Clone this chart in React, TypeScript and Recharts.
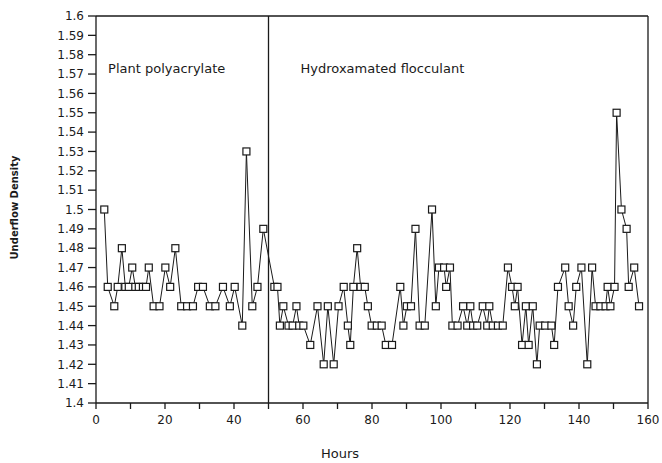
import { LineChart, Line, XAxis, YAxis, ReferenceLine, ReferenceDot, Label } from "recharts";

const hours = [
  2.4, 3.4, 5.3, 6.3, 7.5, 8.5, 9.5, 10.5, 11.4, 12.4, 13.6, 14.5, 15.3, 16.7, 18.4, 20.1, 21.5, 23.0,
  24.7, 26.4, 28.1, 29.6, 31.0, 33.0, 34.6, 36.8, 38.8, 40.2, 42.4, 43.6, 45.3, 46.8, 48.5, 51.7, 52.6,
  53.3, 54.3, 55.8, 57.0, 58.1, 58.9, 60.1, 62.1, 64.2, 66.0, 67.2, 68.9, 70.3, 71.8, 73.0, 73.7, 74.6,
  75.7, 76.7, 77.9, 78.8, 79.9, 81.4, 82.8, 84.0, 85.8, 88.2, 89.1, 90.1, 91.3, 92.6, 93.8, 95.3, 97.4,
  98.5, 99.4, 100.9, 101.5, 102.6, 103.3, 104.8, 106.4, 107.6, 108.5, 109.3, 110.5, 112.1, 113.4, 114.0,
  115.0, 116.5, 117.9, 119.4, 120.6, 121.4, 122.2, 123.5, 124.6, 125.4, 126.6, 127.8, 128.6, 130.2, 132.0,
  132.8, 133.9, 136.0, 137.0, 138.3, 139.2, 140.7, 142.4, 143.8, 144.8, 146.2, 147.7, 148.3, 149.1, 150.3,
  150.9, 152.3, 153.8, 154.4, 156.0, 157.4,
];

const density = [
  1.5, 1.46, 1.45, 1.46, 1.48, 1.46, 1.46, 1.47, 1.46, 1.46, 1.46, 1.46, 1.47, 1.45, 1.45, 1.47, 1.46, 1.48,
  1.45, 1.45, 1.45, 1.46, 1.46, 1.45, 1.45, 1.46, 1.45, 1.46, 1.44, 1.53, 1.45, 1.46, 1.49, 1.46, 1.46,
  1.44, 1.45, 1.44, 1.44, 1.45, 1.44, 1.44, 1.43, 1.45, 1.42, 1.45, 1.42, 1.45, 1.46, 1.44, 1.43, 1.46,
  1.48, 1.46, 1.46, 1.45, 1.44, 1.44, 1.44, 1.43, 1.43, 1.46, 1.44, 1.45, 1.45, 1.49, 1.44, 1.44, 1.5,
  1.45, 1.47, 1.47, 1.46, 1.47, 1.44, 1.44, 1.45, 1.44, 1.45, 1.44, 1.44, 1.45, 1.44, 1.45,
  1.44, 1.44, 1.44, 1.47, 1.46, 1.45, 1.46, 1.43, 1.45, 1.43, 1.45, 1.42, 1.44, 1.44, 1.44,
  1.43, 1.46, 1.47, 1.45, 1.44, 1.46, 1.47, 1.42, 1.47, 1.45, 1.45, 1.45, 1.46, 1.45, 1.46,
  1.55, 1.5, 1.49, 1.46, 1.47, 1.45,
];

const xTicks = [0, 10, 20, 30, 40, 50, 60, 70, 80, 90, 100, 110, 120, 130, 140, 150, 160];
const yTicks = [
  1.4, 1.41, 1.42, 1.43, 1.44, 1.45, 1.46, 1.47, 1.48, 1.49, 1.5,
  1.51, 1.52, 1.53, 1.54, 1.55, 1.56, 1.57, 1.58, 1.59, 1.6,
];

const switchHour = 50;
const phaseLabels = [
  { text: "Plant polyacrylate", hour: 3.5, level: 1.573 },
  { text: "Hydroxamated flocculant", hour: 59.3, level: 1.573 },
];

const data = hours.map((h, i) => ({ hour: h, density: density[i] }));

const ink = "#1a1a1a";
const font = "DejaVu Sans, Verdana, sans-serif";

const SquareDot = (props: any) => {
  const { cx, cy, index } = props;
  if (cx == null || cy == null) return null;
  return (
    <rect key={`sq-${index}`} x={cx - 3.5} y={cy - 3.5} width={7} height={7}
      fill="#fff" stroke={ink} strokeWidth={1.2} />
  );
};

export default function App() {
  return (
    <div style={{ position: "absolute", left: 0, top: 0, background: "#fff" }}>
      <LineChart width={662} height={463} data={data}
        margin={{ top: 16, right: 14, left: 0, bottom: 0 }}>
        <XAxis dataKey="hour" type="number" domain={[0, 160]} ticks={xTicks}
          tickFormatter={(v: number) => (v % 20 === 0 ? String(v) : "")}
          height={60} tickSize={6} tickMargin={6}
          stroke={ink} strokeWidth={1.3}
          tick={{ fill: ink, fontSize: 12, fontFamily: font }}>
          <Label content={({ viewBox }: any) => (
            <text x={viewBox.x + viewBox.width / 2 - 32} y={viewBox.y + 55}
              textAnchor="middle" fill={ink} fontSize={13} fontFamily={font}>Hours</text>
          )} />
        </XAxis>
        <YAxis type="number" domain={[1.4, 1.6]} ticks={yTicks} interval={0}
          tickFormatter={(v: number) => String(parseFloat(v.toFixed(2)))}
          width={96} tickSize={8} tickMargin={4}
          stroke={ink} strokeWidth={1.3}
          tick={{ fill: ink, fontSize: 12, fontFamily: font }}>
          <Label content={({ viewBox }: any) => {
            const x = viewBox.x + 15;
            const y = viewBox.y + viewBox.height / 2 - 2;
            return (
              <text x={x} y={y} transform={`rotate(-90 ${x} ${y})`} textAnchor="middle"
                dominantBaseline="middle" fill={ink} fontSize={10} fontWeight="bold"
                fontFamily={font}>Underflow Density</text>
            );
          }} />
        </YAxis>
        <ReferenceLine y={1.6} stroke={ink} strokeWidth={1.3} />
        <ReferenceLine x={160} stroke={ink} strokeWidth={1.3} />
        <ReferenceLine x={switchHour} stroke={ink} strokeWidth={1.3} />
        {phaseLabels.map((p) => (
          <ReferenceDot key={p.text} x={p.hour} y={p.level} r={0} fill="none" stroke="none"
            label={{ value: p.text, position: "right", offset: 0, fill: ink, fontSize: 13, fontFamily: font }} />
        ))}
        <Line type="linear" dataKey="density" stroke={ink} strokeWidth={1}
          dot={SquareDot} activeDot={false} isAnimationActive={false} />
      </LineChart>
    </div>
  );
}
